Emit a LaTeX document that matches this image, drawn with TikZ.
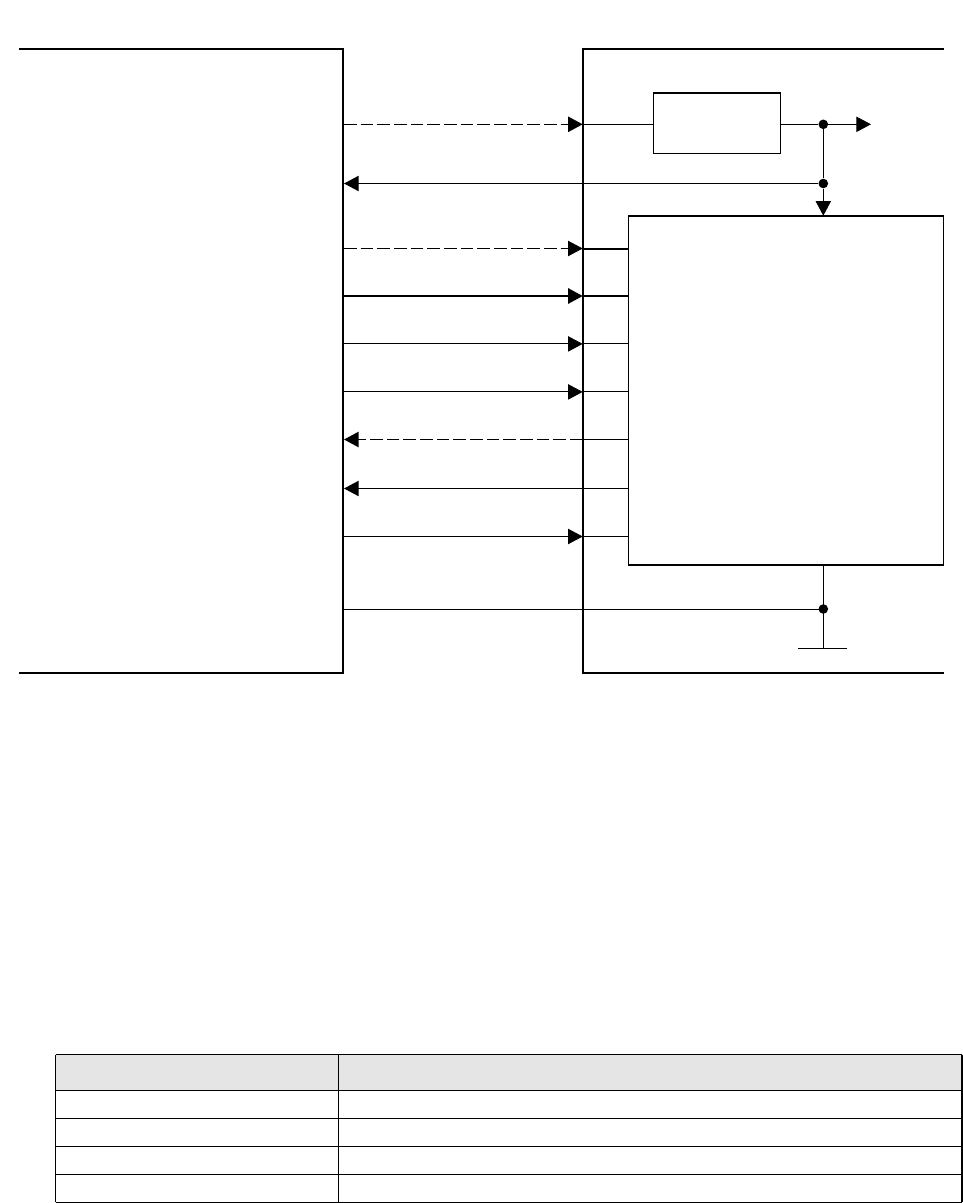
\documentclass[tikz,border=0pt]{standalone}
\usepackage{xcolor}
\usetikzlibrary{arrows.meta}
\definecolor{headgray}{HTML}{E5E5E5}
\tikzset{>={Triangle[length=11pt,width=11.5pt]}}
\tikzset{
  frameline/.style={line width=1.6pt},
  signal/.style={line width=0.75pt},
  busline/.style={line width=1.5pt},
  dashsig/.style={line width=0.75pt,dash pattern=on 9.6pt off 2.9pt},
  dashbus/.style={line width=1.2pt,dash pattern=on 9.6pt off 2.9pt},
  plainbox/.style={draw,line width=0.85pt,inner sep=0pt,outer sep=0pt,anchor=north west},
  junction/.style={circle,fill=black,inner sep=0pt,minimum size=7.2pt},
  tableline/.style={line width=0.8pt}
}

\begin{document}
\begin{tikzpicture}[x=0.75pt,y=-0.75pt]
        \useasboundingbox (0,0) rectangle (963,1203);

        % the two open frames
        \draw[frameline] (19,49)--(343,49)--(343,673)--(19,673);
        \draw[frameline] (944,49)--(583,49)--(583,673)--(944,673);

        % inner boxes
        \node[plainbox,minimum width=95.25pt,minimum height=45.4pt] (filterbox) at (653.5,93) {};
        \node[plainbox,minimum width=236.25pt,minimum height=262pt] (corebox) at (628.5,215.7) {};
        \draw[frameline] (corebox.north west)--(corebox.north east);
        \draw[frameline] (corebox.south west)--(corebox.south east);

        % junctions
        \node[junction] (jout) at (823.3,124.3) {};
        \node[junction] (jfeed) at (823.3,183.5) {};
        \node[junction] (jgnd) at (823.3,609) {};

        \coordinate (a1) at (344,124.3);
        \coordinate (b1) at (582.7,124.3);
        \coordinate (c1) at (filterbox.west |- b1);
        \coordinate (outend) at (871,124.3);
        \coordinate (a2) at (344,183.5);
        \coordinate (coretop) at (823.3,215.7);
        \coordinate (gndleft) at (798,648.5);
        \coordinate (gndright) at (847,648.5);
        \coordinate (gndmid) at (823.3,648.5);
        \coordinate (a0) at (344,609.5);

        % signals between the frames and the core box
        \foreach \n/\y in {3/248.5,4/296,5/343.9,6/391.9,7/439.5,8/488.5,9/536.5}{
          \coordinate (a\n) at (344,\y);
          \coordinate (b\n) at (582.7,\y);
          \coordinate (c\n) at (corebox.west |- b\n);
        }

        \draw[dashbus,->] (a1)--(b1);
        \draw[signal] (b1)--(c1);
        \draw[signal] (filterbox.east |- jout)--(jout);
        \draw[signal,->] (jout)--(outend);
        \draw[signal] (jout)--(jfeed);
        \draw[signal,->] (jfeed)--(coretop);
        \draw[signal,->] (jfeed)--(a2);

        \draw[dashsig,->] (a3)--(b3);
        \draw[busline] (b3)--(c3);
        \draw[busline,->] (a4)--(b4);
        \draw[signal,line width=1.1pt] (b4)--(c4);
        \foreach \n in {5,6,9}{
          \draw[signal,->] (a\n)--(b\n);
          \draw[signal] (b\n)--(c\n);
        }
        \draw[signal] (c7)--(b7);
        \draw[dashbus,->] (b7)--(a7);
        \draw[signal,->] (c8)--(a8);

        % ground
        \draw[signal] (a0)--(a0 -| jgnd);
        \draw[signal] (corebox.south -| jgnd)--(gndmid);
        \draw[signal] (gndleft)--(gndright);

        % table
        \fill[headgray] (55.5,1054.5) rectangle (962,1090.5);
        \foreach \y in {1054.5,1090.5,1118.5,1146.5,1174.5,1202.3}{
          \draw[tableline] (55.5,\y)--(962,\y);
        }
        \foreach \x in {55.5,338.5,962}{
          \draw[tableline] (\x,1054.5)--(\x,1202.3);
        }
\end{tikzpicture}
\end{document}
